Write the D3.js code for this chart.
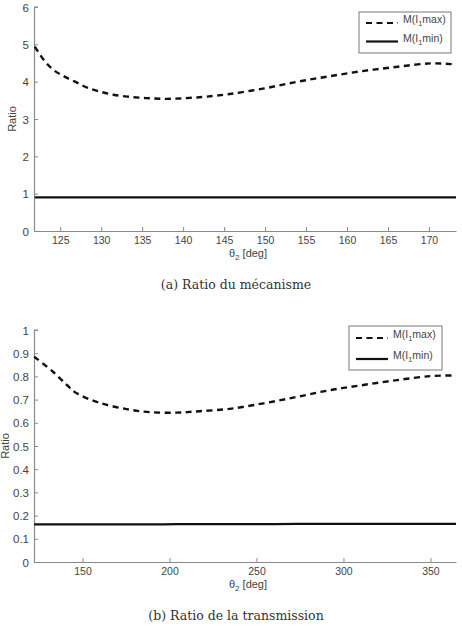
<!DOCTYPE html>
<html>
<head>
<meta charset="utf-8">
<script src="https://cdn.jsdelivr.net/npm/d3@7"></script>
<style>
  body { margin: 0; background: #fff; }
  text { font-family: "Liberation Sans", Arial, sans-serif; fill: #444; }
  .caption { font-family: "DejaVu Serif", "Liberation Serif", serif; fill: #333; }
</style>
</head>
<body>
<div id="chart"></div>
<script>
// (a) Ratio du mecanisme
const thetaA = [121.9, 123.0, 124.2, 125.4, 126.8, 128.3, 129.9, 131.5, 133.2, 134.8, 136.3, 138.0, 139.6, 141.2, 142.9, 145.7, 149.9, 154.0, 158.0, 162.1, 166.2, 170.2, 172.7, 173.3];
const maxA   = [4.94, 4.58, 4.31, 4.15, 4.00, 3.84, 3.73, 3.65, 3.60, 3.57, 3.55, 3.54, 3.55, 3.57, 3.60, 3.67, 3.82, 4.00, 4.15, 4.29, 4.40, 4.49, 4.47, 4.46];
const minA   = [0.90, 0.90, 0.90, 0.90, 0.90, 0.90, 0.90, 0.90, 0.90, 0.90, 0.90, 0.90, 0.90, 0.90, 0.90, 0.90, 0.90, 0.90, 0.90, 0.90, 0.90, 0.90, 0.90, 0.90];
const xTicksA = [125, 130, 135, 140, 145, 150, 155, 160, 165, 170];
const yTicksA = [0, 1, 2, 3, 4, 5, 6];

// (b) Ratio de la transmission
const thetaB = [122.2, 133.0, 141.0, 146.7, 159.9, 175.4, 188.6, 204.1, 217.3, 234.5, 254.0, 273.5, 292.4, 311.4, 330.9, 349.7, 362.9, 364.7];
const maxB   = [0.885, 0.820, 0.763, 0.727, 0.686, 0.659, 0.646, 0.644, 0.650, 0.660, 0.684, 0.712, 0.741, 0.763, 0.784, 0.801, 0.804, 0.803];
const minB   = [0.162, 0.162, 0.162, 0.162, 0.162, 0.162, 0.162, 0.163, 0.163, 0.163, 0.163, 0.164, 0.164, 0.164, 0.164, 0.164, 0.164, 0.164];
const xTicksB = [150, 200, 250, 300, 350];
const yTicksB = [0, 0.1, 0.2, 0.3, 0.4, 0.5, 0.6, 0.7, 0.8, 0.9, 1];

const legendNames = ["M(I", "max)", "min)"];

const svg = d3.select('#chart')
    .append('svg')
    .attr('width', 462)
    .attr('height', 627);

function panel(opt) {
    const x = d3.scaleLinear().domain(opt.xDomain).range([34, 456]);
    const y = d3.scaleLinear().domain(opt.yDomain).range([opt.bottom, opt.top]);
    const g = svg.append('g');

    //X axis, ticks inside
    const xAxis = g.append('g')
        .attr('transform', 'translate(0,' + opt.bottom + ')')
        .call(d3.axisBottom(x).tickValues(opt.xTicks).tickSizeInner(-4).tickSizeOuter(0).tickPadding(6));
    //Y axis
    const yAxis = g.append('g')
        .attr('transform', 'translate(34,0)')
        .call(d3.axisLeft(y).tickValues(opt.yTicks).tickFormat(d3.format('')).tickSizeInner(-4).tickSizeOuter(0).tickPadding(5));
    [xAxis, yAxis].forEach(a => {
        a.select('.domain').attr('stroke', '#8a8a8a').attr('stroke-width', 1.2);
        a.selectAll('.tick line').attr('stroke', '#8a8a8a');
        a.selectAll('.tick text').attr('fill', '#555');
    });
    xAxis.selectAll('.tick text').style('font-size', '10.5px');
    yAxis.selectAll('.tick text').style('font-size', '11.5px').attr('dy', '0.35em');
    // small stub at the top of y axis like matlab
    yAxis.append('line').attr('x1', 0).attr('x2', 4).attr('y1', opt.top).attr('y2', opt.top).attr('stroke', '#8a8a8a');

    //Y label
    g.append('text')
        .text('Ratio')
        .attr('text-anchor', 'middle')
        .attr('transform', 'rotate(-90)')
        .attr('x', -(opt.top + opt.bottom) / 2)
        .attr('y', opt.yLabelX)
        .style('font-size', '11px');

    //X label
    const xl = g.append('text')
        .attr('x', 248)
        .attr('y', opt.bottom + 26)
        .attr('text-anchor', 'middle')
        .style('font-size', '11px');
    xl.append('tspan').text('θ');
    xl.append('tspan').text('2').attr('dy', 3).style('font-size', '8px');
    xl.append('tspan').text(' [deg]').attr('dy', -3);

    //Lines
    const line = d3.line()
        .x(d => x(d[0]))
        .y(d => y(d[1]))
        .curve(d3.curveCatmullRom);
    g.append('path')
        .datum(d3.zip(opt.theta, opt.max))
        .attr('d', line)
        .attr('fill', 'none')
        .attr('stroke', '#111')
        .attr('stroke-width', 2.4)
        .attr('stroke-dasharray', '6,4.5');
    g.append('path')
        .datum(d3.zip(opt.theta, opt.min))
        .attr('d', line)
        .attr('fill', 'none')
        .attr('stroke', '#111')
        .attr('stroke-width', 2.2);

    //Legend
    const L = opt.legend;
    g.append('rect')
        .attr('x', L.x).attr('y', L.y)
        .attr('width', L.w).attr('height', L.h)
        .attr('fill', '#fff')
        .attr('stroke', '#777')
        .attr('stroke-width', 1);
    [0, 1].forEach(i => {
        const ly = L.y + L.first + i * L.step;
        g.append('line')
            .attr('x1', L.x + 7).attr('x2', L.x + 39)
            .attr('y1', ly).attr('y2', ly)
            .attr('stroke', '#111')
            .attr('stroke-width', 2.2)
            .attr('stroke-dasharray', i === 0 ? '6,4.5' : null);
        const t = g.append('text')
            .attr('x', L.x + 44)
            .attr('y', ly)
            .style('font-size', '10.5px');
        t.append('tspan').text(legendNames[0]);
        t.append('tspan').text('1').attr('dy', 3).style('font-size', '7.5px');
        t.append('tspan').text(legendNames[i + 1]).attr('dy', -3);
    });

    //Caption
    svg.append('text')
        .attr('class', 'caption')
        .attr('x', 236)
        .attr('y', opt.captionY)
        .attr('text-anchor', 'middle')
        .style('font-size', '12.5px')
        .text(opt.caption);
}

panel({
    xDomain: [121.8, 173.3], yDomain: [0, 6], top: 7, bottom: 231,
    xTicks: xTicksA, yTicks: yTicksA, yLabelX: 16,
    theta: thetaA, max: maxA, min: minA,
    legend: { x: 359, y: 12, w: 92, h: 41, first: 11, step: 18.5 },
    caption: '(a) Ratio du mécanisme', captionY: 289
});

panel({
    xDomain: [122.1, 364.7], yDomain: [0, 1], top: 330, bottom: 562,
    xTicks: xTicksB, yTicks: yTicksB, yLabelX: 9,
    theta: thetaB, max: maxB, min: minB,
    legend: { x: 349, y: 326, w: 93, h: 44, first: 12, step: 21 },
    caption: '(b) Ratio de la transmission', captionY: 620
});
</script>
</body>
</html>
